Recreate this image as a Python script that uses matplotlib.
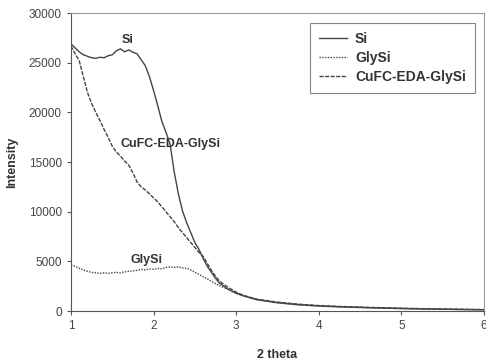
import matplotlib
matplotlib.use("Agg")
import matplotlib.pyplot as plt

plt.rcParams['font.family'] = ['Liberation Sans', 'DejaVu Sans']

two_theta = [1.0, 1.05, 1.1, 1.15, 1.2, 1.25, 1.3, 1.35, 1.4, 1.45, 1.5, 1.55, 1.6, 1.65,
             1.7, 1.75, 1.8, 1.85, 1.9, 1.95, 2.0, 2.05, 2.1, 2.15, 2.2, 2.25, 2.3, 2.35,
             2.4, 2.45, 2.5, 2.55, 2.6, 2.65, 2.7, 2.75, 2.8, 2.9, 3.0, 3.1, 3.25, 3.5,
             3.75, 4.0, 4.25, 4.5, 4.75, 5.0, 5.25, 5.5, 5.75, 6.0]

si = [26900, 26500, 26100, 25800, 25650, 25500, 25450, 25550, 25500, 25700, 25800, 26200,
      26400, 26100, 26300, 26050, 25900, 25300, 24700, 23600, 22200, 20700, 19100, 18000,
      16800, 14000, 11800, 10100, 8900, 7900, 6900, 6200, 5300, 4500, 3900, 3300, 2800,
      2200, 1800, 1500, 1150, 850, 650, 520, 430, 370, 310, 260, 220, 190, 160, 140]

glysi = [4650, 4500, 4300, 4150, 4000, 3900, 3850, 3800, 3850, 3800, 3850, 3900, 3850,
         3950, 4000, 4050, 4100, 4200, 4150, 4250, 4200, 4300, 4250, 4400, 4450, 4400,
         4450, 4350, 4300, 4150, 3900, 3700, 3450, 3250, 3000, 2750, 2550, 2200, 1800,
         1500, 1150, 820, 620, 500, 420, 360, 300, 250, 210, 180, 150, 130]

cufc = [26700, 25900, 25200, 23600, 22000, 20900, 20000, 19200, 18300, 17500, 16600,
        16000, 15600, 15100, 14700, 13900, 13000, 12500, 12200, 11800, 11400, 11000,
        10500, 10000, 9500, 9000, 8400, 7900, 7400, 6900, 6400, 5900, 5500, 4800, 4100,
        3500, 3000, 2400, 1900, 1550, 1200, 900, 700, 560, 470, 400, 340, 290, 250, 210,
        180, 150]

fig = plt.figure(figsize=(4.86, 3.63), dpi=100)
ax = fig.add_axes([0.146, 0.143, 0.85, 0.821])

ax.plot(two_theta, si, color='#444444', lw=1.0, ls='-', label='Si')
ax.plot(two_theta, glysi, color='#444444', lw=1.0, ls=(0, (1, 1)), label='GlySi')
ax.plot(two_theta, cufc, color='#444444', lw=1.0, ls=(0, (3, 1)), label='CuFC-EDA-GlySi')

ax.text(1.69, 27300, 'Si', fontsize=9, fontweight='bold', color='#333333', ha='center', va='center')
ax.text(2.2, 16800, 'CuFC-EDA-GlySi', fontsize=9, fontweight='bold', color='#333333', ha='center', va='center')
ax.text(1.91, 5150, 'GlySi', fontsize=9, fontweight='bold', color='#333333', ha='center', va='center')

ax.set_xlim(1, 6)
ax.set_ylim(0, 30000)
ax.set_xticks([1, 2, 3, 4, 5, 6])
ax.set_yticks([0, 5000, 10000, 15000, 20000, 25000, 30000])
ax.tick_params(labelsize=8.5, labelcolor='#444444', length=3, color='#555555')

ax.spines['top'].set_color('#999999')
ax.spines['right'].set_color('#999999')
ax.spines['left'].set_color('#555555')
ax.spines['bottom'].set_color('#555555')

ax.set_xlabel('2 theta', fontsize=9, fontweight='bold', color='#333333', labelpad=12)
ax.set_ylabel('Intensity', fontsize=9, fontweight='bold', color='#333333', labelpad=8)

leg = ax.legend(loc='upper right', bbox_to_anchor=(0.978, 0.966), borderaxespad=0,
                frameon=True, fancybox=False, edgecolor='#666666', handlelength=2,
                handletextpad=0.6, borderpad=0.65, labelspacing=0.35,
                prop={'weight': 'bold', 'size': 10})
leg.get_frame().set_linewidth(0.8)
for t in leg.get_texts():
    t.set_color('#333333')

fig.savefig('out.png', dpi=100)
